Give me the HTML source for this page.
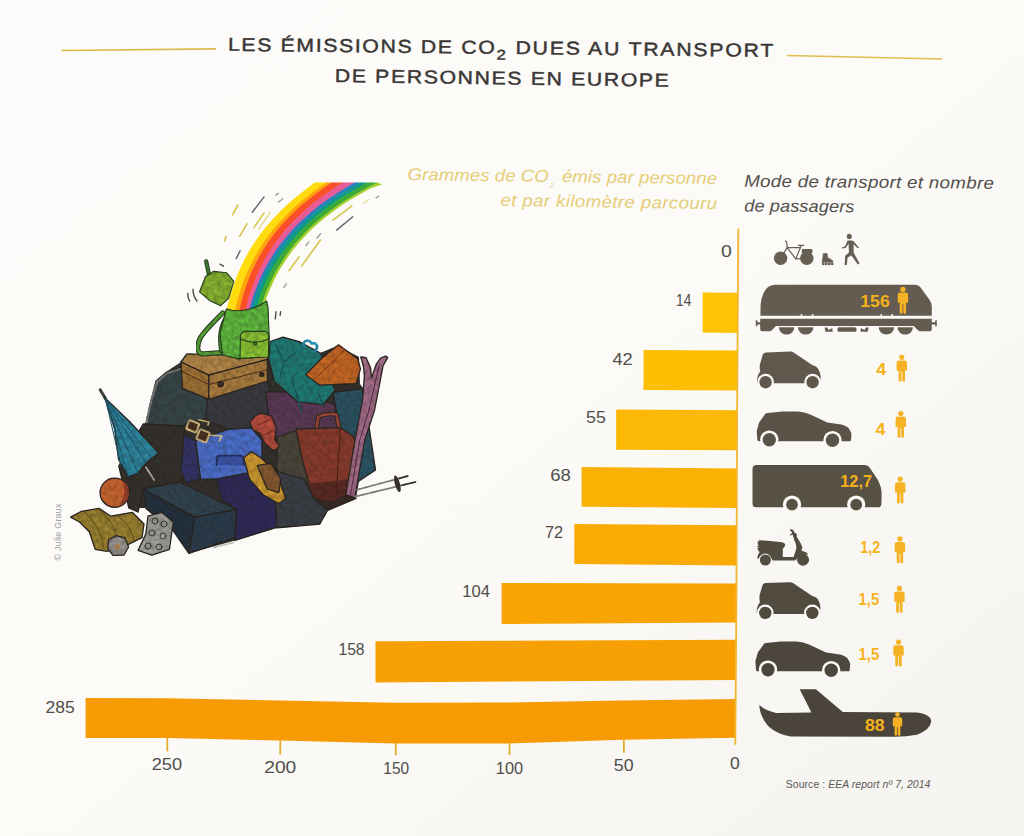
<!DOCTYPE html>
<html lang="fr">
<head>
<meta charset="utf-8">
<title>Les émissions de CO2 dues au transport de personnes en Europe</title>
<style>
html,body{margin:0;padding:0;}
body{width:1024px;height:836px;overflow:hidden;background:#fbfaf7;font-family:"Liberation Sans",sans-serif;}
svg{display:block;position:absolute;left:0;top:0;}
text{font-family:"Liberation Sans",sans-serif;}
.ttl{font-size:18.6px;fill:#3a3735;stroke:#3a3735;stroke-width:.45px;}
.num{font-size:16.5px;fill:#504d4a;}
.hy{font-size:17px;font-style:italic;fill:#e5cd76;}
.hd{font-size:17px;font-style:italic;fill:#524f4c;}
.yb{font-weight:bold;fill:#f6b21b;}
.ic{fill:#4b4743;}
.pp{fill:#f6b21b;}
</style>
</head>
<body>
<svg width="1024" height="836" viewBox="0 0 1024 836">
<defs>
<linearGradient id="bg" x1="0" y1="0" x2="1" y2="1">
<stop offset="0" stop-color="#fdfcfa"/><stop offset=".55" stop-color="#fbfaf7"/><stop offset="1" stop-color="#f4f3ef"/>
</linearGradient>
<linearGradient id="barg" x1="0" y1="0" x2="0" y2="1">
<stop offset="0" stop-color="#fdc51c"/><stop offset="1" stop-color="#f5a314"/>
</linearGradient>
<filter id="tex" x="-2%" y="-2%" width="104%" height="104%" color-interpolation-filters="sRGB">
<feTurbulence type="fractalNoise" baseFrequency="0.22" numOctaves="3" seed="7" result="n"/>
<feColorMatrix in="n" type="matrix" values="0 0 0 0 0.13  0 0 0 0 0.11  0 0 0 0 0.09  0.55 0 0 0 -0.12" result="a"/>
<feComposite in="a" in2="SourceAlpha" operator="in" result="b"/>
<feMerge><feMergeNode in="SourceGraphic"/><feMergeNode in="b"/></feMerge>
<feGaussianBlur stdDeviation="0.4"/>
</filter>
<filter id="soft"><feGaussianBlur stdDeviation="0.5"/></filter>
</defs>
<rect width="1024" height="836" fill="url(#bg)"/>

<!-- ===== TITLE ===== -->
<g id="title">
<line x1="61.3" y1="50.5" x2="216" y2="48.9" stroke="#dcb94a" stroke-width="1.6"/>
<line x1="787.2" y1="55.5" x2="942" y2="59" stroke="#e0bd4c" stroke-width="1.6"/>
<text class="ttl" transform="translate(227.9 50.8) rotate(0.64) scale(1.14 1)" textLength="234" lengthAdjust="spacing">LES ÉMISSIONS DE CO</text>
<text class="ttl" transform="translate(496.6 59.6) rotate(0.64) scale(1.2 1)" style="font-size:14px">2</text>
<text class="ttl" transform="translate(515.5 54) rotate(0.64) scale(1.14 1)" textLength="226" lengthAdjust="spacing">DUES AU TRANSPORT</text>
<text class="ttl" transform="translate(334.8 81.9) rotate(0.83) scale(1.14 1)" textLength="293" lengthAdjust="spacing">DE PERSONNES EN EUROPE</text>
</g>

<!-- ===== HEADERS ===== -->
<g id="headers">
<text class="hy" transform="translate(407.6 180.1) rotate(0.7) scale(1.09 1)" textLength="129.4" lengthAdjust="spacing">Grammes de CO</text>
<text class="hy" transform="translate(550 187.8) rotate(0.7)" style="font-size:6.5px">2</text>
<text class="hy" transform="translate(561.9 182.1) rotate(0.75) scale(1.09 1)" textLength="142.3" lengthAdjust="spacing">émis par personne</text>
<text class="hy" transform="translate(500.5 205.8) rotate(0.9) scale(1.1 1)" textLength="196.8" lengthAdjust="spacing">et par kilomètre parcouru</text>
<text class="hd" transform="translate(744.2 186.8) rotate(0.45) scale(1.1 1)" textLength="227" lengthAdjust="spacing">Mode de transport et nombre</text>
<text class="hd" transform="translate(744.2 211.4) rotate(0.45) scale(1.07 1)" textLength="103" lengthAdjust="spacing">de passagers</text>
</g>

<!-- ===== BARS ===== -->
<g id="bars">
<polygon points="702.6,292.4 737.6,292.8 737.3,333 702.6,332.5" fill="#fdc404"/>
<polygon points="643.5,350 737.2,350.6 737,390.6 643.5,390" fill="#fcbf04"/>
<polygon points="616.2,409.5 737,410.2 736.8,450.2 616.2,449.7" fill="#fbb804"/>
<polygon points="581.6,467 736.8,468.4 736.6,508 581.6,506.8" fill="#fab103"/>
<polygon points="574.3,524 736.6,525.2 736.4,565.4 574.3,564" fill="#f9aa03"/>
<polygon points="501.6,583 736.4,583.4 736.2,622.4 501.6,624" fill="#f8a503"/>
<polygon points="375.5,641.3 736.2,639.8 736,679.9 375.5,682.5" fill="#f7a004"/>
<path d="M85.6,698 L167,698.3 L280,700.5 L395,702.8 L509,702.6 L623,700.4 L736,699 L735.8,737.8 L623,739.7 L509,743.4 L395,743.6 L280,740.5 L167,738.1 L85.6,738Z" fill="#f69b04"/>
</g>

<!-- ===== AXIS ===== -->
<g id="axis" stroke="#f2b630" fill="none">
<path d="M738.3,228.6 L737.2,400 L736.4,600 L735.3,744.8" stroke-width="1.8"/>
<g stroke-width="1.8" stroke="#e3ad2c">
<line x1="167.3" y1="738" x2="167.3" y2="751.4"/>
<line x1="280.3" y1="740" x2="280.3" y2="754.5"/>
<line x1="395.8" y1="743" x2="395.8" y2="755.3"/>
<line x1="509.5" y1="743" x2="509.5" y2="755"/>
<line x1="623.9" y1="739.5" x2="623.9" y2="752.7"/>
</g>
</g>

<!-- ===== NUMBER LABELS ===== -->
<g id="labels" class="num">
<text transform="translate(721 256.7) scale(1.177 1)">0</text>
<text transform="translate(676.1 305.8) scale(0.828 1)">14</text>
<text transform="translate(612.4 364.6) scale(1.106 1)">42</text>
<text transform="translate(586 423.1) scale(1.079 1)">55</text>
<text transform="translate(550.2 480.9) scale(1.123 1)">68</text>
<text transform="translate(545 538.2) scale(0.992 1)">72</text>
<text transform="translate(462.3 597) scale(1.006 1)">104</text>
<text transform="translate(338.4 655.3) scale(0.952 1)">158</text>
<text transform="translate(45.4 712.6) scale(1.065 1)">285</text>
<g style="font-size:17px">
<text transform="translate(151.7 770.2) scale(1.076 1)">250</text>
<text transform="translate(264.2 773.3) scale(1.132 1)">200</text>
<text transform="translate(383.3 774.4) scale(0.910 1)">150</text>
<text transform="translate(495.8 773.8) scale(0.963 1)">100</text>
<text transform="translate(613.8 770.9) scale(1.047 1)">50</text>
<text transform="translate(730 769.4) scale(1.037 1)">0</text>
</g>
</g>

<!-- ===== SOURCE / CREDIT ===== -->
<text x="785.8" y="787.9" style="font-size:10.4px;fill:#5a5754" textLength="144.5" lengthAdjust="spacing">Source : <tspan font-style="italic">EEA report nº 7, 2014</tspan></text>
<text transform="translate(61.2 560.5) rotate(-90)" style="font-size:9px;fill:#a09d98" textLength="57" lengthAdjust="spacing">© Julie Graux</text>

<!-- ===== ICONS ===== -->
<defs>
<g id="person">
<circle cx="5.2" cy="2.5" r="2.6"/>
<path d="M2.3,5.6 H8.1 Q10.4,5.6 10.4,7.8 V15.2 Q10.4,16.2 9.5,16.2 Q8.7,16.2 8.6,15.4 L8.4,15.4 V25.6 Q8.4,26.8 7,26.8 Q5.6,26.8 5.6,25.6 V17 H4.8 V25.6 Q4.8,26.8 3.4,26.8 Q2,26.8 2,25.6 V15.4 L1.8,15.4 Q1.7,16.2 0.9,16.2 Q0,16.2 0,15.2 V7.8 Q0,5.6 2.3,5.6Z"/>
</g>
<g id="carS">
<path d="M0.4,31 C0.3,25.5 1.8,22 3.6,20.2 C3,17 3,15 3.3,13 L6.2,3 Q6.9,1 9,0.8 L34,0 Q35.6,0 37,1 L56,13.7 Q60.2,14.8 61.4,16.8 Q63.6,20.5 64.1,24.7 L63.8,29 Q63.2,31.7 61,31.7 L3,31.7 Z"/>
<circle cx="9" cy="30.5" r="8.3" fill="#fbfaf7"/><circle cx="56" cy="30.5" r="8.3" fill="#fbfaf7"/>
<circle cx="9" cy="30.6" r="6.2"/><circle cx="56" cy="30.6" r="6.2"/>
</g>
<g id="carM">
<path d="M0.9,27 L0.4,19.8 L2.8,11 L9.2,2.2 Q9.8,1.6 11,1.5 L26,0 L42,0 Q48,0.4 54,3 L71,11 L85,13.2 Q90.5,14.6 92.6,17 Q95,20.5 95.2,23 L94.7,28.5 Q94.6,29.8 93.5,29.8 L2.5,29.8 Q1,29.8 0.9,27Z"/>
<circle cx="13" cy="28.2" r="9.2" fill="#fbfaf7"/><circle cx="76.2" cy="28.7" r="9.2" fill="#fbfaf7"/>
<circle cx="13" cy="28.3" r="6.7"/><circle cx="76.2" cy="28.8" r="6.7"/>
</g>
</defs>

<g id="icons">
<!-- bike / skate / walker -->
<g fill="#675f53" stroke="#675f53" stroke-linecap="round" stroke-linejoin="round">
<circle cx="780.6" cy="258.3" r="6.7" stroke="none"/>
<circle cx="806.8" cy="258.3" r="6.7" stroke="none"/>
<path d="M785.6,241 L786.6,242 L787.2,247.4 L780.6,258.3 M787.2,247.5 L800.6,247.6 M787.2,247.7 L795.8,258.9 L801,246 M798.4,245.4 L803.8,245.4 M795.8,258.9 L806.8,258.3" fill="none" stroke-width="1.2"/>
<rect x="801.8" y="249" width="10.6" height="4.2" rx=".8" stroke="none"/>
<path d="M823.4,253.5 L827.1,253.5 L827.7,257.6 L832.6,260.6 L832.8,262.3 L821.9,262.3 L822.9,257.6Z" stroke-width=".6"/>
<circle cx="823.3" cy="263.9" r="1.35" stroke="none"/><circle cx="826.3" cy="263.9" r="1.35" stroke="none"/><circle cx="829.3" cy="263.9" r="1.35" stroke="none"/><circle cx="832.2" cy="263.9" r="1.35" stroke="none"/>
<circle cx="849.3" cy="236.4" r="2.55" stroke="none"/>
<path d="M847.6,240.6 L851.6,240.4 Q853.4,240.6 854.2,242 L858.9,247.6 L858,248.4 L853.6,244.2 L853.7,252.8 L859.6,263.4 L857.8,264.6 L851.4,255.4 L847.6,257.4 L846.8,264.9 L844.6,264.9 L845.2,255.8 L848.9,252.4 L848.6,243.8 L845.6,248 L842,248.6 L841.8,247.4 L844.8,246.6 Z" stroke="none"/>
</g>

<!-- train -->
<g fill="#645c50">
<path d="M760.4,315.8 L760.6,304.5 Q761,297 765,290.5 Q768.6,284.9 775,284.8 L915,284.8 Q918.6,284.8 920.6,287.6 L929.6,300 Q931.8,303 931.8,306.6 L931.8,315.8 L893,315.8 L893,314 L891.5,314 L891.5,315.8 L882,315.8 L882,314 L880.5,314 L880.5,315.8 L813.4,315.8 L813.4,314 L811.9,314 L811.9,315.8 L802.2,315.8 L802.2,314 L800.7,314 L800.7,315.8Z"/>
<path d="M760.2,318.8 L931.8,318.8 L931.8,322.3 L935.2,322.3 L935.2,320.3 L936.8,320.3 L936.8,326.3 L935.2,326.3 L935.2,324.4 L931.8,324.4 L931.8,329.4 Q931.8,331.2 930,331.2 L920.4,331.2 Q919,331.2 918,330.2 L913.6,326 L776,326 L771.8,330.2 Q770.8,331.2 769.4,331.2 L762,331.2 Q760.2,331.2 760.2,329.4 L760.2,324.4 L757.4,324.4 L757.4,326.3 L755.8,326.3 L755.8,320.3 L757.4,320.3 L757.4,322.3 L760.2,322.3Z"/>
<path d="M778.9,327.2 A7.7,7.4 0 0 0 794.3,327.2Z"/>
<path d="M798,327.2 A7.7,7.4 0 0 0 813.4,327.2Z"/>
<path d="M878.7,327.2 A7.7,7.4 0 0 0 894.1,327.2Z"/>
<path d="M897.5,327.2 A7.7,7.4 0 0 0 912.9,327.2Z"/>
<rect x="837.5" y="327.2" width="19" height="4.6" rx="1.6"/>
<path d="M824.6,327.4 L827.4,327.4 L828.6,330 L832.4,328 L832.6,331.8 L825.4,331.8Z"/>
<path d="M868.6,327.4 L865.8,327.4 L864.6,330 L860.8,328 L860.6,331.8 L867.8,331.8Z"/>
</g>

<!-- small car (4) -->
<use href="#carS" x="756.6" y="351.6" fill="#60584c"/>
<!-- medium car (4) -->
<use href="#carM" x="756.3" y="411.4" fill="#5b5348"/>

<!-- bus -->
<g fill="#575044">
<path d="M752.5,469.2 Q752.5,465 756.7,465 L864,465 Q868.2,465 870.2,468.4 L877.6,479.6 Q881.6,487 881.6,493.5 L881.4,503.4 Q881.4,507.3 877.4,507.3 L756,507.3 Q752.5,507.3 752.5,503.8Z"/>
<circle cx="792" cy="504.5" r="9.1" fill="#fbfaf7"/><circle cx="856.2" cy="504.5" r="9.1" fill="#fbfaf7"/>
<circle cx="792" cy="504.6" r="5.9"/><circle cx="856.2" cy="504.6" r="5.9"/>
</g>

<!-- scooter -->
<g fill="#534c41">
<path d="M758.2,542.6 L757.2,541 L759.2,541.2 L759.6,539.4 L761,540.6 Q766,540.2 772.6,541.2 L782,542.2 Q785.4,543 785.2,545 Q784.8,547.4 782.8,548.8 L782.8,556.9 L793.6,556.9 Q795.4,552 796.4,548 Q796,543 794.4,540.6 L792.6,534.4 L790.4,535.8 L790,534.8 L792.2,533 L791.4,531.4 Q789.4,530.6 790,529.4 Q791.4,528.8 793,529.8 L794.4,532.2 L797,534.6 L796.6,536.6 L799,540.4 Q801.6,544 802.4,547.6 L801.4,550.6 L806.4,552.4 Q808.2,553.4 808,554.6 L806,554.2 Q810,558 808.6,561.8 L797.6,561.8 Q797.4,559.4 798.6,557.6 L795,560.6 L772.6,560.6 L771.4,558.6 Q770,554.4 765.4,553.6 Q760.4,554 758.6,558.8 L757.4,558.4 Q757.6,554 759.6,552.6 L757.2,548.4 L759,547.8 L756.8,546.2 L758.6,545.4 L757.4,543.6Z"/>
<circle cx="765.4" cy="560" r="5.5"/><circle cx="803" cy="559.8" r="5.9"/>
</g>

<!-- small car (1,5) -->
<use href="#carS" x="756.3" y="582.3" fill="#504a3f"/>
<!-- medium car (1,5) -->
<use href="#carM" x="755" y="641.4" fill="#4d463c"/>

<!-- plane -->
<path fill="#4a443a" d="M759.3,705.1 Q765,710.5 776,713 L811.4,712.5 L799.7,689.3 L815.9,689.3 L842.8,711.9 L917,712.5 Q931.4,714.6 931.2,721.6 Q930.6,729.6 917,734.7 Q906,736.8 894.7,736.8 L790.8,736.6 Q777,734 768.6,726.4 Q759.8,716.5 759.3,705.1Z"/>

<!-- persons -->
<g fill="#f4b224">
<use href="#person" x="897.7" y="286.9"/>
<use href="#person" x="896.6" y="354.8"/>
<use href="#person" x="895.6" y="411"/>
<use href="#person" x="895" y="476.6"/>
<use href="#person" x="894.7" y="536.4"/>
<use href="#person" x="894.2" y="585.9"/>
<use href="#person" x="893.3" y="639.6"/>
<use href="#person" transform="translate(892.8 712.4) scale(.9 .87)"/>
</g>

<!-- yellow numbers -->
<g class="yb" style="font-size:16px">
<text transform="translate(860.3 306.6) scale(1.05 1)" style="font-size:16.8px">156</text>
<text transform="translate(876.3 374.6) scale(1.12 1)">4</text>
<text transform="translate(875.4 434.6) scale(1.12 1)">4</text>
<text transform="translate(840.3 486.9) scale(1.02 1)">12,7</text>
<text transform="translate(860.2 552.8) scale(.9 1)">1,2</text>
<text transform="translate(858.6 604.6) scale(.93 1)">1,5</text>
<text transform="translate(858.6 660.2) scale(.93 1)">1,5</text>
<text transform="translate(865 731) scale(1.1 1)">88</text>
</g>
</g>


<!-- ===== ILLUSTRATION ===== -->
<g id="illu" stroke-linejoin="round" stroke-linecap="round">
<g stroke="#2b2622" stroke-width="1.3" filter="url(#tex)">
<!-- base silhouette -->
<polygon points="146,424 156,381 166,372 181,362 187,354 267,356 270,341.5 283,337.2 320,353 337.6,345.8 359,357 360,384 363,388 375.5,470 359,481 356,498.4 327.7,510.3 319.8,524 277,528 235,540.5 188.9,553.3 173,531 146,508 129,508 119,466 143,426" fill="#33312e" stroke="none"/>
<!-- slate bag behind left -->
<polygon points="145.9,424 150,405 156.1,381 166.4,372.2 181,367.8 184,388 208.8,399.3 207,418 190,424 184,437 146,433" fill="#37474a"/>
<path d="M146.6,422 L151,402 L157,382 L167,373.4 L180,369" fill="none" stroke="#7b7f7d" stroke-width="2.2"/>
<!-- charcoal masses -->
<polygon points="118.8,466 128,450 143.2,424 184,426 186,440 182,484 143.2,490.7 138,512 128.9,508" fill="#35312c"/>
<polygon points="207,399.3 267.4,381 272,398 270,416 262,428 251.3,427.9 227.9,429.3 206,420" fill="#3a3b42"/>
<polygon points="186,424 207,418 208,428 196,441 184,436" fill="#36332f"/>
<!-- teal suitcase right -->
<polygon points="333,392.4 362,388.8 368,420 375.5,470 359,481 345,482 340,430" fill="#2a5566"/>
<!-- purple suitcase -->
<polygon points="265.8,392 297.4,391.7 334.7,404.6 338,428.4 297.4,430 277.3,442 268.7,416" fill="#5c3a58"/>
<!-- teal bag -->
<polygon points="270.1,341.5 283,337.2 300,342 320.3,353 330,372 334.7,390.3 323.2,404.6 297.4,401.7 274.4,381.6 268.7,358.7" fill="#1e7f7a"/>
<path d="M276,345 L284,362 L280,378 M284,362 L296,352 M291.6,378.8 L301.7,411.8 M318,392 L323.2,406" fill="none" stroke="#14605e" stroke-width="1.4"/>
<path d="M304,346 C302,340 310,339 311.5,343.5 C316,342 319,346.5 315.5,350.5" fill="none" stroke="#2a9ac0" stroke-width="2.6"/>
<!-- orange flipper -->
<polygon points="305.5,374.8 322,358 338.5,344.8 357.5,358.7 360.5,368.9 356.1,383.6 319.5,385.1" fill="#cf6a24"/>
<path d="M337.6,345.8 L345,349.6 L318,376" fill="none" stroke="#8a3a14" stroke-width="1"/>
<!-- dark gray-brown bag between -->
<polygon points="277,437 298,430 302,440 313.5,499 304,502 286,497 277,472" fill="#4c473c"/>
<!-- maroon suitcase -->
<path d="M316.5,428.6 L318.4,416.6 Q327,412.6 336.4,414.6 L339,427.8" fill="none" stroke="#2b2622" stroke-width="4.6"/>
<path d="M316.5,428.6 L318.4,416.6 Q327,412.6 336.4,414.6 L339,427.8" fill="none" stroke="#a8483a" stroke-width="2.6"/>
<polygon points="296,429 340.4,427.6 353.3,436.2 355,440 351,496 329,504.5 313.5,499 303.5,464 300.3,450.5" fill="#8e3c2c"/>
<polygon points="309,484 352,479 351,496 329,504.5 313.5,499" fill="#5c2a22" stroke="none"/>
<path d="M340.4,427.6 L336,497" fill="none" stroke="#4a1e18" stroke-width="1"/>
<!-- skis -->
<polygon points="360.8,357 366,357.6 370.6,368 371.4,378 376.4,364 380.6,358 385.6,356 387.6,357.6 383,366 374.6,410 364.8,440 355,497 345,499.5 355,440 362.6,400 364.4,376 363.4,366" fill="#a86f8d"/>
<path d="M379,366 L369,410 L359.8,440 L350,498" fill="none" stroke="#5a2a4a" stroke-width="1"/>
<!-- under-maroon shadow -->
<polygon points="314,498.6 331.6,502.5 347,495 356,498.4 327.7,510.3" fill="#3a2a24"/>
<!-- blue suitcase -->
<polygon points="183.9,434 195.7,441 200.6,479 186,483 181,470" fill="#33336a"/>
<polygon points="195.7,441 227.9,429.3 251.3,427.9 262,440 262,482 247.5,473.2 216.3,479.1 200.6,479" fill="#4c72d4"/>
<path d="M216.3,465.4 L216.8,458.4 Q217,455.8 220,455.6 L240,455.6 Q243.4,455.8 243.6,458.6 L243.6,465.4" fill="#3b55b0" stroke="#23306a" stroke-width="1.6"/>
<!-- red hat -->
<polygon points="249.9,422 255,416 261.6,413.2 271.8,416.2 276.2,427.9 274.8,439.6 279.2,445.5 276,450 271.8,449.9 264.5,442.5 260.1,433.7 253,430" fill="#c04e40"/>
<path d="M258,425 L272,418 M262,436 L275,430" fill="none" stroke="#7a2a24" stroke-width="1"/>
<!-- navy bottom bag -->
<polygon points="216.3,479.1 247.5,473.2 262,480 275,498.6 277,527 235,540.5 236.8,509.3 222,500" fill="#2f2a5c"/>
<!-- slate bottom-center bag -->
<polygon points="276.9,471.3 304.2,479.1 314,498.6 327.7,510.3 319.8,524 276.9,527.9 275,498.6" fill="#3a4048"/>
<!-- straw hat -->
<polygon points="243.7,457.6 251.5,451.7 260,457 269,465.4 280.8,484.9 285.7,498.6 278.8,503.5 263.2,494.7 249.5,479.1" fill="#d8a030"/>
<polygon points="257.3,465.4 271,463.4 280.8,479.1 278.8,492.7 267.1,488.8" fill="#8a5c30"/>
<!-- brown trunk -->
<polygon points="181,362 186.9,353.9 267.4,356.1 267.4,359.4 208.8,375.2" fill="#bb8c4a"/>
<polygon points="181,362 208.8,375.2 208.8,399.3 182.5,388.3" fill="#a67636"/>
<polygon points="208.8,375.2 267.4,359.4 267.4,381 208.8,399.3" fill="#b08040"/>
<path d="M182,371.4 L208.8,384.6 L267.4,369.6" fill="none" stroke="#4a3018" stroke-width="1"/>
<circle cx="220.6" cy="384" r="2.7" fill="#4a2c20"/><circle cx="261.6" cy="374.4" r="2" fill="#4a2c20"/>
</g>

<!-- rainbow -->
<g stroke="none" filter="url(#soft)">
<path d="M226.1,312.0 L227.4,306.4 L228.9,300.7 L230.5,295.1 L232.2,289.5 L234.1,283.9 L236.1,278.2 L238.4,272.6 L240.8,267.0 L243.5,261.4 L246.5,255.7 L249.7,250.1 L253.1,244.5 L256.9,238.9 L261.0,233.2 L265.4,227.6 L270.2,222.0 L275.3,216.4 L280.8,210.7 L286.8,205.1 L293.1,199.5 L299.9,193.9 L307.1,188.2 L314.8,182.6 L326.8,182.6 L318.7,188.2 L311.1,193.9 L304.0,199.5 L297.4,205.1 L291.3,210.7 L285.6,216.4 L280.3,222.0 L275.4,227.6 L270.8,233.2 L266.6,238.9 L262.8,244.5 L259.2,250.1 L255.9,255.7 L252.9,261.4 L250.2,267.0 L247.6,272.6 L245.3,278.2 L243.2,283.9 L241.3,289.5 L239.6,295.1 L238.0,300.7 L236.6,306.4 L235.3,312.0Z" fill="#ffdc08"/>
<path d="M234.7,312.0 L236.0,306.4 L237.4,300.7 L239.0,295.1 L240.7,289.5 L242.6,283.9 L244.7,278.2 L247.0,272.6 L249.6,267.0 L252.3,261.4 L255.3,255.7 L258.6,250.1 L262.2,244.5 L266.0,238.9 L270.2,233.2 L274.8,227.6 L279.7,222.0 L285.0,216.4 L290.7,210.7 L296.8,205.1 L303.4,199.5 L310.5,193.9 L318.1,188.2 L326.2,182.6 L332.2,182.6 L323.9,188.2 L316.2,193.9 L309.0,199.5 L302.2,205.1 L296.0,210.7 L290.2,216.4 L284.8,222.0 L279.9,227.6 L275.3,233.2 L271.0,238.9 L267.1,244.5 L263.6,250.1 L260.3,255.7 L257.2,261.4 L254.5,267.0 L251.9,272.6 L249.6,278.2 L247.5,283.9 L245.6,289.5 L243.9,295.1 L242.3,300.7 L240.9,306.4 L239.7,312.0Z" fill="#ffa408"/>
<path d="M239.1,312.0 L240.3,306.4 L241.7,300.7 L243.3,295.1 L245.0,289.5 L246.9,283.9 L249.0,278.2 L251.3,272.6 L253.9,267.0 L256.6,261.4 L259.7,255.7 L263.0,250.1 L266.5,244.5 L270.4,238.9 L274.7,233.2 L279.3,227.6 L284.2,222.0 L289.6,216.4 L295.4,210.7 L301.6,205.1 L308.4,199.5 L315.6,193.9 L323.3,188.2 L331.6,182.6 L343.6,182.6 L334.7,188.2 L326.5,193.9 L318.8,199.5 L311.6,205.1 L305.0,210.7 L298.9,216.4 L293.3,222.0 L288.0,227.6 L283.2,233.2 L278.8,238.9 L274.7,244.5 L270.9,250.1 L267.4,255.7 L264.3,261.4 L261.3,267.0 L258.7,272.6 L256.2,278.2 L254.0,283.9 L252.0,289.5 L250.2,295.1 L248.5,300.7 L247.1,306.4 L245.8,312.0Z" fill="#fb4f2a"/>
<path d="M245.2,312.0 L246.5,306.4 L247.9,300.7 L249.6,295.1 L251.4,289.5 L253.4,283.9 L255.6,278.2 L258.1,272.6 L260.7,267.0 L263.7,261.4 L266.8,255.7 L270.3,250.1 L274.1,244.5 L278.2,238.9 L282.6,233.2 L287.4,227.6 L292.7,222.0 L298.3,216.4 L304.4,210.7 L311.0,205.1 L318.2,199.5 L325.9,193.9 L334.1,188.2 L343.0,182.6 L355.0,182.6 L345.3,188.2 L336.4,193.9 L328.1,199.5 L320.4,205.1 L313.3,210.7 L306.7,216.4 L300.6,222.0 L295.0,227.6 L289.9,233.2 L285.1,238.9 L280.7,244.5 L276.7,250.1 L273.0,255.7 L269.5,261.4 L266.4,267.0 L263.5,272.6 L260.8,278.2 L258.4,283.9 L256.2,289.5 L254.2,295.1 L252.4,300.7 L250.8,306.4 L249.4,312.0Z" fill="#e75c98"/>
<path d="M248.8,312.0 L250.2,306.4 L251.8,300.7 L253.6,295.1 L255.6,289.5 L257.8,283.9 L260.2,278.2 L262.9,272.6 L265.8,267.0 L268.9,261.4 L272.4,255.7 L276.1,250.1 L280.1,244.5 L284.5,238.9 L289.3,233.2 L294.4,227.6 L300.0,222.0 L306.1,216.4 L312.7,210.7 L319.8,205.1 L327.5,199.5 L335.8,193.9 L344.7,188.2 L354.4,182.6 L361.1,182.6 L351.0,188.2 L341.7,193.9 L333.1,199.5 L325.2,205.1 L317.8,210.7 L311.1,216.4 L304.8,222.0 L299.0,227.6 L293.7,233.2 L288.8,238.9 L284.3,244.5 L280.1,250.1 L276.3,255.7 L272.7,261.4 L269.5,267.0 L266.5,272.6 L263.7,278.2 L261.2,283.9 L258.9,289.5 L256.9,295.1 L255.0,300.7 L253.4,306.4 L252.0,312.0Z" fill="#2c7fbf"/>
<path d="M251.4,312.0 L252.8,306.4 L254.4,300.7 L256.3,295.1 L258.3,289.5 L260.6,283.9 L263.1,278.2 L265.9,272.6 L268.9,267.0 L272.1,261.4 L275.7,255.7 L279.5,250.1 L283.7,244.5 L288.2,238.9 L293.1,233.2 L298.4,227.6 L304.2,222.0 L310.5,216.4 L317.2,210.7 L324.6,205.1 L332.5,199.5 L341.1,193.9 L350.4,188.2 L360.5,182.6 L368.5,182.6 L358.0,188.2 L348.4,193.9 L339.5,199.5 L331.2,205.1 L323.7,210.7 L316.7,216.4 L310.3,222.0 L304.3,227.6 L298.9,233.2 L293.8,238.9 L289.2,244.5 L284.9,250.1 L280.9,255.7 L277.3,261.4 L273.9,267.0 L270.8,272.6 L268.0,278.2 L265.4,283.9 L263.1,289.5 L261.0,295.1 L259.1,300.7 L257.4,306.4 L255.9,312.0Z" fill="#0f9a86"/>
<path d="M255.3,312.0 L256.8,306.4 L258.5,300.7 L260.4,295.1 L262.5,289.5 L264.8,283.9 L267.4,278.2 L270.2,272.6 L273.3,267.0 L276.7,261.4 L280.3,255.7 L284.3,250.1 L288.6,244.5 L293.2,238.9 L298.3,233.2 L303.7,227.6 L309.7,222.0 L316.1,216.4 L323.1,210.7 L330.6,205.1 L338.9,199.5 L347.8,193.9 L357.4,188.2 L367.9,182.6 L377.9,182.6 L366.9,188.2 L356.7,193.9 L347.4,199.5 L338.8,205.1 L330.9,210.7 L323.6,216.4 L316.9,222.0 L310.7,227.6 L305.0,233.2 L299.8,238.9 L294.9,244.5 L290.5,250.1 L286.4,255.7 L282.6,261.4 L279.1,267.0 L275.8,272.6 L272.9,278.2 L270.2,283.9 L267.7,289.5 L265.5,295.1 L263.5,300.7 L261.8,306.4 L260.3,312.0Z" fill="#3daa35"/>
<path d="M259.7,312.0 L261.2,306.4 L262.9,300.7 L264.9,295.1 L267.1,289.5 L269.6,283.9 L272.3,278.2 L275.2,272.6 L278.5,267.0 L282.0,261.4 L285.8,255.7 L289.9,250.1 L294.3,244.5 L299.2,238.9 L304.4,233.2 L310.1,227.6 L316.3,222.0 L323.0,216.4 L330.3,210.7 L338.2,205.1 L346.8,199.5 L356.1,193.9 L366.3,188.2 L377.3,182.6 L382.0,184.4 L370.7,188.2 L360.4,193.9 L350.8,199.5 L342.1,205.1 L334.0,210.7 L326.6,216.4 L319.8,222.0 L313.5,227.6 L307.7,233.2 L302.4,238.9 L297.4,244.5 L292.9,250.1 L288.7,255.7 L284.9,261.4 L281.3,267.0 L278.0,272.6 L275.0,278.2 L272.3,283.9 L269.8,289.5 L267.5,295.1 L265.5,300.7 L263.7,306.4 L262.2,312.0Z" fill="#a3cf2d"/>
</g>

<g stroke="#25401c" stroke-width="1.1" filter="url(#tex)">
<!-- backpack -->
<path d="M222.6,312.9 C214,322 203,332 199.6,339.2 C197.5,345 197.6,349 198.3,351 C200,354 203,354 204.2,353.7 L222.6,352.4" fill="none" stroke-width="5"/>
<path d="M222.6,312.9 C214,322 203,332 199.6,339.2 C197.5,345 197.6,349 198.3,351 C200,354 203,354 204.2,353.7 L222.6,352.4" fill="none" stroke="#5aa83a" stroke-width="3"/>
<path d="M226,318 C221,326 219,338 221.4,351" fill="none" stroke-width="4.4"/>
<path d="M226,318 C221,326 219,338 221.4,351" fill="none" stroke="#4a9a36" stroke-width="2.6"/>
<path d="M225.3,311.6 L226.6,308.9 Q238,312.6 250,309 Q260,306 266.7,301 L268,307.6 L269.3,339.2 L267.4,356.3 L238.4,358.9 L222.6,355 L220,333.9 L223.9,318.2Z" fill="#62c040"/>
<path d="M240.4,336 Q241,331.6 246,331.4 L264,331.2 Q268.6,331.4 268.7,336 L268.6,357 L240,358.4Z" fill="#8ecb34"/>
<path d="M240.4,339 Q254,345.6 268.6,339" fill="none"/>
<circle cx="255" cy="343.4" r="1.5" fill="#4a9a36"/>
<line x1="209.5" y1="277.4" x2="206.2" y2="261.4" stroke-width="4.2"/>
<line x1="209.5" y1="277.4" x2="206.2" y2="261.4" stroke="#3e8a3a" stroke-width="2.4"/>
<polygon points="199.6,291.8 205.5,276.7 213.4,271.4 226.6,272.8 233.8,281.3 228.6,298.4 220.7,305.7 209.5,300.4" fill="#8cbc30"/>
</g>

<g stroke="#2b2622" stroke-width="1.3" filter="url(#tex)">
<!-- umbrella -->
<line x1="100.2" y1="389.7" x2="105.4" y2="398.6" stroke="#4a4a4a" stroke-width="3"/>
<line x1="145.9" y1="467.3" x2="154.2" y2="480" stroke="#c8c8c4" stroke-width="1.6"/>
<polygon points="104.5,397.4 130,422 159,453.4 152,458 146.1,463 138,473.2 128.4,477.1 118.6,459.5 114.5,427.6" fill="#2d8aa4"/>
<path d="M105.5,399 L128.4,477.1 M105.5,399 L138,473.2 M105.5,399 L146.1,463 M105.5,399 L152,458 M105.5,399 L121,466" fill="none" stroke="#1a5c74" stroke-width="1"/>
<!-- dark trunk front-left -->
<polygon points="143,488.8 194.8,517.1 188.9,553.3 173.3,530.9 146,508.4" fill="#223240"/>
<polygon points="143,488.8 179.1,482 236.8,509.3 194.8,517.1" fill="#304552"/>
<polygon points="194.8,517.1 236.8,509.3 234.8,537.7 188.9,553.3" fill="#2a3d4e"/>
<line x1="214.3" y1="547.6" x2="233.8" y2="542.6" stroke="#d6d6ce" stroke-width="1.6"/>
<!-- towel -->
<polygon points="70.7,517.1 81.5,511.3 99.1,508.4 110.8,516.2 132.3,512.3 144,524 142,537.7 126.4,545.5 106.9,551.3 95.2,549.4 89.3,531.8 79.5,522" fill="#a08630"/>
<path d="M84,512 Q100,524 104,549 M99,509.4 Q116,522 120,546 M118,515.6 Q132,526 134,541" fill="none" stroke="#6a5418" stroke-width="1"/>
<!-- ball -->
<circle cx="114.7" cy="492.7" r="14.6" fill="#d2682e"/>
<path d="M122,480.2 A14.6,14.6 0 0 1 119,506.6 Q128,494 122,480.2Z" fill="#9c402a" stroke="none"/>
<!-- flip-flops -->
<polygon points="108.4,540 116,535.6 125,538 128.6,547 124,555 113,555.4 108,549" fill="#9c9a96"/>
<circle cx="117.6" cy="546.4" r="3" fill="#b8905a" stroke="none"/>
<polygon points="147.9,516.2 161.6,512.3 173.3,522 169.4,549.4 151.8,555.2 138.1,550.4 145.9,533.8" fill="#a6a6a0"/>
<g fill="none" stroke="#3a3a38" stroke-width="1"><circle cx="155" cy="521" r="3"/><circle cx="164" cy="524" r="3"/><circle cx="152" cy="533" r="3"/><circle cx="163" cy="536" r="3"/><circle cx="148" cy="546" r="3"/><circle cx="159" cy="547" r="3"/></g>
<!-- ski poles -->
<line x1="357" y1="489.8" x2="407.7" y2="476.1" stroke="#8c8a80" stroke-width="1.7"/>
<line x1="355" y1="496.6" x2="415.5" y2="482" stroke="#8c8a80" stroke-width="1.7"/>
<line x1="399" y1="478.4" x2="407.7" y2="476.1" stroke="#3a3632" stroke-width="1.5"/>
<line x1="402" y1="485.2" x2="415.5" y2="482" stroke="#3a3632" stroke-width="1.5"/>
<ellipse cx="397.4" cy="483.8" rx="2.5" ry="8.6" transform="rotate(-16 397.4 483.8)" fill="#3a3632" stroke="none"/>
<!-- glasses -->
<g stroke="#d9c384" stroke-width="2" fill="#4a3020">
<rect x="187.4" y="421.6" width="10.6" height="9.4" rx="1.5" transform="rotate(22 192.7 426.3)"/>
<rect x="197.8" y="430.6" width="10.6" height="10.4" rx="1.5" transform="rotate(22 203 435.8)"/>
<path d="M198.6,419.8 L208.8,422 L208,425 M210.3,435.2 L222,436 L219.1,441" fill="none" stroke-width="1.6"/>
</g>
</g>

<!-- dashes -->
<g fill="none" stroke-width="1.6" filter="url(#soft)">
<g stroke="#d3c84a">
<path d="M232.6,214.9 L237.9,205 M239.7,236.4 L246.9,223.8 M224.5,240.9 L226.3,236.4 M254.1,227.4 L264,213.1 M333,220.2 L351.9,205.9 M301.6,266 L320.5,240 M289.1,270.5 L299,257"/>
<path d="M258.6,229.2 L270.2,212.2 M363.5,203.2 L368.9,199.6" stroke="#e6df9a"/>
</g>
<g stroke="#5d6966" stroke-width="1.4">
<path d="M252.3,212.2 L264,196.9 M236.1,258.8 L240.1,250.7 M336.6,230.1 L352.8,216.7"/>
<path d="M275.6,195.1 L278.3,193.3 M278.3,202.3 L282.8,198.7 M376.1,197.8 L378.8,196 M306.1,245.4 L308.8,241.8 M316.9,238.2 L320.5,233.7 M283.7,287.5 L286.4,283.9" stroke="#9aa3a0"/>
<path d="M187.8,293.2 Q187.6,298 189.7,301 M193,289.2 Q193,296 197,301 M220,264.2 L223.3,266.2 M275.3,318.9 L276,311.8 M280.1,315.3 L280.6,311.8" stroke="#4a4f4c"/>
</g>
</g>
</g>


</svg>
</body>
</html>
